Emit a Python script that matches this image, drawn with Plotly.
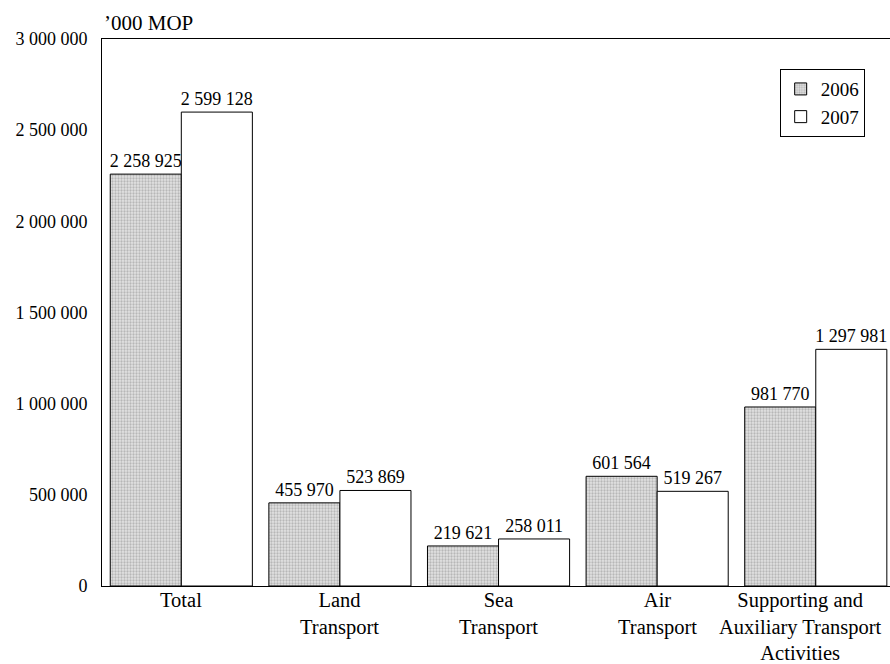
import plotly.graph_objects as go

categories = ["Total", "Land<br>Transport", "Sea<br>Transport", "Air<br>Transport",
              "Supporting and<br>Auxiliary Transport<br>Activities"]
values_2006 = [2258925, 455970, 219621, 601564, 981770]
values_2007 = [2599128, 523869, 258011, 519267, 1297981]
y_ticks = [0, 500000, 1000000, 1500000, 2000000, 2500000, 3000000]

FONT = "Liberation Serif, Times New Roman, serif"


def fmt(v):
    # thousands separated by a space, as in the source
    return f"{v:,}".replace(",", " ")


fig = go.Figure()

fig.add_trace(go.Bar(
    x=categories,
    y=values_2006,
    name="2006",
    text=[fmt(v) for v in values_2006],
    textposition="outside",
    constraintext="none",
    cliponaxis=False,
    textfont=dict(size=18, color="black", family=FONT),
    marker=dict(
        color="#d0d0d0",
        line=dict(color="black", width=1),
        pattern=dict(shape=".", size=3, solidity=0.45,
                     fgcolor="#8c8c8c", bgcolor="#e2e2e2"),
    ),
))

fig.add_trace(go.Bar(
    x=categories,
    y=values_2007,
    name="2007",
    text=[fmt(v) for v in values_2007],
    textposition="outside",
    constraintext="none",
    cliponaxis=False,
    textfont=dict(size=18, color="black", family=FONT),
    marker=dict(color="white", line=dict(color="black", width=1)),
))

fig.add_annotation(
    text="’000 MOP", xref="paper", yref="paper",
    x=0.0, y=1.0, xanchor="left", yanchor="bottom", yshift=2,
    showarrow=False, font=dict(size=21, color="black", family=FONT),
)

# category labels drawn as annotations so the last one can sit inside the page
for i, cat in enumerate(categories):
    fig.add_annotation(
        text=cat, x=cat, xref="x", y=0, yref="paper",
        xanchor="center", yanchor="top", yshift=-1,
        xshift=-15 if i == len(categories) - 1 else 0,
        showarrow=False, align="center",
        font=dict(size=20.5, color="black", family=FONT),
    )

fig.update_layout(
    width=890,
    height=664,
    margin=dict(l=102, r=0, t=39, b=78, autoexpand=False),
    paper_bgcolor="white",
    plot_bgcolor="white",
    font=dict(family=FONT, size=18, color="black"),
    barmode="group",
    bargap=0.104,
    bargroupgap=0,
    showlegend=True,
    legend=dict(
        x=0.86, y=0.945, xanchor="left", yanchor="top",
        bordercolor="black", borderwidth=1, bgcolor="white",
        font=dict(size=19, family=FONT),
        itemwidth=30,
    ),
)

fig.update_xaxes(
    range=[-0.5, 4.468],
    automargin=False,
    showline=True, linecolor="black", linewidth=1, mirror=True,
    showgrid=False, ticks="", showticklabels=False,
)

fig.update_yaxes(
    range=[0, 3000000],
    automargin=False,
    tickvals=y_ticks,
    ticktext=[fmt(v) for v in y_ticks],
    showline=True, linecolor="black", linewidth=1,
    showgrid=False, zeroline=False, ticks="",
    ticklabelstandoff=10,
    tickfont=dict(size=18, family=FONT),
)

fig.write_html(
    "out.html",
    config={"displayModeBar": False},
    post_script="document.body.style.margin='0';"
                "document.body.style.overflow='hidden';"
                "document.documentElement.style.overflow='hidden';",
)
